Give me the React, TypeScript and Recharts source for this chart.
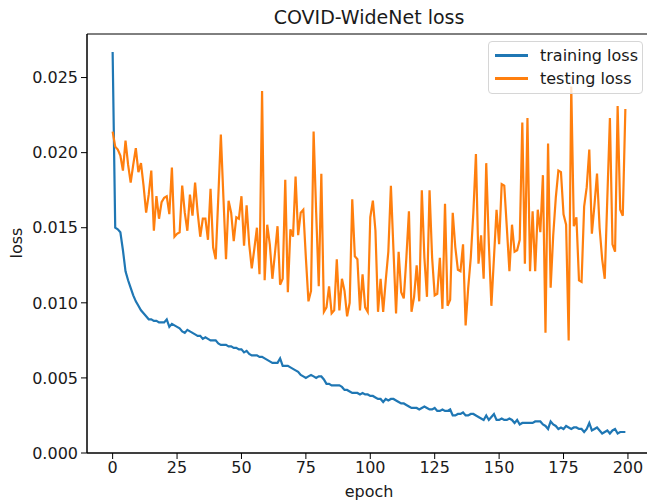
import { Label, Line, LineChart, ReferenceArea, XAxis, YAxis } from 'recharts'

// loss values per epoch
const trainLoss = [
  0.0267, 0.015, 0.0149, 0.0147, 0.0135, 0.0121, 0.0115, 0.011, 0.0105, 0.0101,
  0.0098, 0.0095, 0.0093, 0.0091, 0.0089, 0.0089, 0.0088, 0.0088, 0.0087, 0.0087,
  0.0087, 0.0089, 0.0084, 0.0086, 0.0085, 0.0084, 0.0083, 0.0081, 0.008, 0.0082,
  0.0081, 0.008, 0.0079, 0.0078, 0.0078, 0.0076, 0.0077, 0.0076, 0.0075, 0.0075,
  0.0075, 0.0073, 0.0072, 0.0072, 0.0072, 0.0071, 0.0071, 0.007, 0.007, 0.0069,
  0.0069, 0.0067, 0.0068, 0.0066, 0.0065, 0.0065, 0.0065, 0.0064, 0.0064, 0.0063,
  0.0062, 0.0061, 0.006, 0.006, 0.006, 0.0063, 0.0058, 0.0058, 0.0058, 0.0057,
  0.0056, 0.0055, 0.0054, 0.0052, 0.0051, 0.005, 0.0051, 0.0052, 0.0051, 0.005,
  0.0051, 0.0051, 0.0049, 0.0046, 0.0046, 0.0045, 0.0045, 0.0045, 0.0045, 0.0044,
  0.0042, 0.0042, 0.0041, 0.004, 0.004, 0.004, 0.0039, 0.004, 0.0039, 0.0039,
  0.0038, 0.0038, 0.0037, 0.0036, 0.0036, 0.0034, 0.0036, 0.0035, 0.0036, 0.0036,
  0.0035, 0.0034, 0.0033, 0.0033, 0.0032, 0.0031, 0.003, 0.003, 0.003, 0.0029,
  0.003, 0.0031, 0.003, 0.0029, 0.0029, 0.003, 0.0028, 0.0028, 0.0029, 0.0028,
  0.0028, 0.0029, 0.0025, 0.0025, 0.0026, 0.0026, 0.0027, 0.0025, 0.0025, 0.0026,
  0.0026, 0.0025, 0.0024, 0.0023, 0.0022, 0.0025, 0.0022, 0.0024, 0.0026, 0.0022,
  0.0022, 0.0023, 0.0022, 0.0022, 0.0023, 0.0022, 0.002, 0.0022, 0.0019, 0.002,
  0.002, 0.002, 0.002, 0.002, 0.0021, 0.0021, 0.0021, 0.0019, 0.0018, 0.0016,
  0.0021, 0.0019, 0.0018, 0.0016, 0.0017, 0.0016, 0.0018, 0.0017, 0.0016, 0.0017,
  0.0017, 0.0016, 0.0016, 0.0014, 0.0016, 0.002, 0.0015, 0.0016, 0.0017, 0.0015,
  0.0013, 0.0014, 0.0015, 0.0013, 0.0015, 0.0016, 0.0013, 0.0014, 0.0014, 0.0014,
]

const testLoss = [
  0.0214, 0.0204, 0.0202, 0.0198, 0.0188, 0.0208, 0.0192, 0.018, 0.0192, 0.0203,
  0.0187, 0.0193, 0.0178, 0.016, 0.0172, 0.0188, 0.0148, 0.0171, 0.0156, 0.0167,
  0.017, 0.0171, 0.0159, 0.019, 0.0144, 0.0146, 0.0147, 0.0178, 0.016, 0.0148,
  0.0172, 0.0158, 0.018, 0.016, 0.0144, 0.0156, 0.0156, 0.0142, 0.0176, 0.0137,
  0.0129, 0.017, 0.0212, 0.017, 0.0129, 0.0168, 0.016, 0.0141, 0.0157, 0.0156,
  0.0171, 0.0138, 0.0165, 0.0139, 0.0123, 0.0136, 0.015, 0.0119, 0.0241, 0.0115,
  0.0152, 0.0139, 0.0116, 0.0133, 0.0151, 0.0112, 0.0116, 0.0182, 0.0107, 0.0149,
  0.0144, 0.0184, 0.0145, 0.016, 0.0162, 0.013, 0.0101, 0.0108, 0.0214, 0.016,
  0.0111, 0.0186, 0.0094, 0.0097, 0.0111, 0.0093, 0.0095, 0.0129, 0.0095, 0.0116,
  0.0108, 0.0091, 0.01, 0.0169, 0.0131, 0.0129, 0.0095, 0.0119, 0.0097, 0.0094,
  0.0157, 0.0168, 0.0148, 0.0094, 0.0116, 0.0094, 0.0115, 0.0134, 0.0178, 0.0135,
  0.0093, 0.0134, 0.0107, 0.0103, 0.013, 0.0161, 0.0094, 0.0104, 0.0125, 0.0101,
  0.0175, 0.013, 0.0104, 0.0175, 0.013, 0.0105, 0.0106, 0.013, 0.0096, 0.0166,
  0.0098, 0.0102, 0.016, 0.0137, 0.0122, 0.0121, 0.0139, 0.0085, 0.011, 0.013,
  0.016, 0.0199, 0.0126, 0.0145, 0.0116, 0.0193, 0.014, 0.0098, 0.013, 0.0162,
  0.0139, 0.0179, 0.0178, 0.015, 0.0121, 0.0152, 0.0134, 0.0135, 0.0142, 0.022,
  0.0126, 0.0223, 0.0121, 0.0161, 0.0121, 0.0162, 0.0147, 0.0185, 0.008, 0.0206,
  0.011, 0.0145, 0.017, 0.0188, 0.0187, 0.0159, 0.0152, 0.0075, 0.0244, 0.0151,
  0.0157, 0.0115, 0.0114, 0.0164, 0.0177, 0.0202, 0.0146, 0.0165, 0.0186, 0.015,
  0.0129, 0.0116, 0.017, 0.0223, 0.0139, 0.0134, 0.0231, 0.0162, 0.0158, 0.0229,
]

const epochs = trainLoss.map((_, i) => i)
const xTicks = [0, 25, 50, 75, 100, 125, 150, 175, 200]
const yTicks = [0, 0.005, 0.01, 0.015, 0.02, 0.025]
const seriesNames = ['training loss', 'testing loss']
const seriesColors = ['#1f77b4', '#ff7f0e']

const X_DOMAIN: [number, number] = [-9.95, 208.95]
const Y_DOMAIN: [number, number] = [0, 0.0279]

const data = epochs.map((epoch, i) => ({ epoch, train: trainLoss[i], test: testLoss[i] }))

const FONT = '"DejaVu Sans", Verdana, sans-serif'
const INK = '#1a1a1a'

export default function App() {
  return (
    <div style={{ position: 'absolute', left: 0, top: 0, width: 647, height: 502, overflow: 'hidden', background: '#fff', fontFamily: FONT }}>
      <div style={{ position: 'absolute', left: 87, width: 564, top: 6, textAlign: 'center', fontSize: 19, color: INK }}>
        COVID-WideNet loss
      </div>
      <LineChart width={652} height={502} data={data} margin={{ top: 34, right: 1, bottom: 0, left: 0 }}>
        <XAxis
          dataKey="epoch"
          type="number"
          domain={X_DOMAIN}
          ticks={xTicks}
          allowDataOverflow
          tickSize={6}
          tickMargin={3}
          height={49}
          stroke="#000"
          tick={{ fill: INK, fontSize: 16, fontFamily: FONT }}
        >
          <Label
            content={() => (
              <text x={369} y={497} textAnchor="middle" fontSize={16} fill={INK} fontFamily={FONT}>
                epoch
              </text>
            )}
          />
        </XAxis>
        <YAxis
          type="number"
          domain={Y_DOMAIN}
          ticks={yTicks}
          allowDataOverflow
          width={87}
          tickSize={6}
          tickMargin={3}
          stroke="#000"
          tickFormatter={(v: number) => v.toFixed(3)}
          tick={{ fill: INK, fontSize: 16, fontFamily: FONT }}
        >
          <Label
            content={() => (
              <text x={22} y={243} transform="rotate(-90 22 243)" textAnchor="middle" fontSize={16} fill={INK} fontFamily={FONT}>
                loss
              </text>
            )}
          />
        </YAxis>
        {/* axes frame, like matplotlib's four spines */}
        <ReferenceArea x1={X_DOMAIN[0]} x2={X_DOMAIN[1]} y1={Y_DOMAIN[0]} y2={Y_DOMAIN[1]} fill="none" stroke="#000" strokeWidth={1} />
        <Line dataKey="train" name={seriesNames[0]} stroke={seriesColors[0]} strokeWidth={2.2} dot={false} isAnimationActive={false} />
        <Line dataKey="test" name={seriesNames[1]} stroke={seriesColors[1]} strokeWidth={2.2} dot={false} isAnimationActive={false} />
      </LineChart>
      <div
        style={{
          position: 'absolute',
          left: 488,
          top: 41,
          width: 155,
          boxSizing: 'border-box',
          border: '1px solid #d6d6d6',
          borderRadius: 4,
          background: 'rgba(255,255,255,0.8)',
          padding: '2px 0 3px 6px',
          fontSize: 16,
          color: INK,
        }}
      >
        {seriesNames.map((name, i) => (
          <div key={name} style={{ display: 'flex', alignItems: 'center', height: 23 }}>
            <span style={{ display: 'inline-block', width: 33, height: 2.2, background: seriesColors[i], marginRight: 12 }} />
            <span>{name}</span>
          </div>
        ))}
      </div>
    </div>
  )
}
